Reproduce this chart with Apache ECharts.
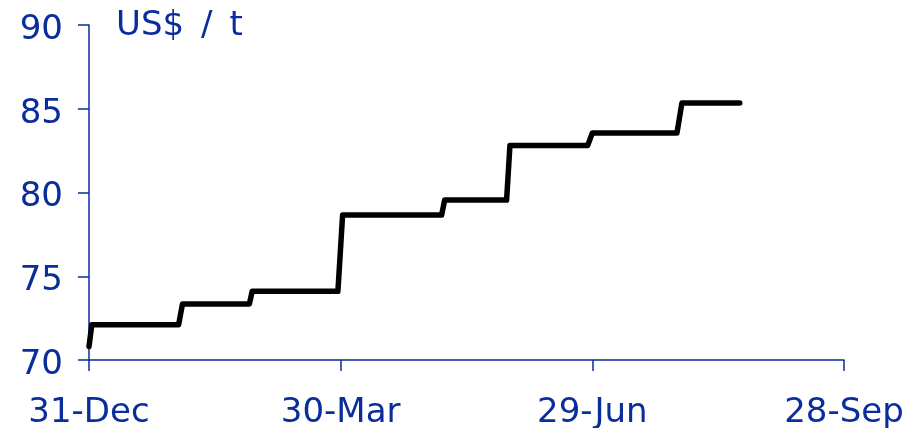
<!DOCTYPE html>
<html>
<head>
<meta charset="utf-8">
<script src="https://cdn.jsdelivr.net/npm/echarts@6/dist/echarts.min.js"></script>
<style>
  html, body { margin: 0; padding: 0; background: #fff; }
  #chart { width: 914px; height: 428px; }
</style>
</head>
<body>
<div id="chart"></div>
<script>
// days counted from 31-Dec, step breakpoints
const days = [0, 1, 32.4, 33.8, 58, 59, 90, 91.7, 127.5, 128.6, 151, 152.2, 180.3, 182, 212.6, 214.4, 235.3]
const prices = [70.8, 72.1, 72.1, 73.35, 73.35, 74.1, 74.1, 78.65, 78.65, 79.55, 79.55, 82.8, 82.8, 83.55, 83.55, 85.35, 85.35]
const tickLabels = ['31-Dec', '30-Mar', '29-Jun', '28-Sep']
const tickStep = 91

const blue = '#0a2d9c'
const font = 'DejaVu Sans'

const chart = echarts.init(document.getElementById('chart'))

chart.setOption({
  animation: false,
  grid: { left: 89, right: 70, top: 25, bottom: 68, outerBoundsMode: 'none', containLabel: false },
  xAxis: {
    type: 'value',
    min: 0,
    max: tickStep * 3,
    interval: tickStep,
    splitLine: { show: false },
    axisLine: { lineStyle: { color: blue, width: 1.5 } },
    axisTick: { show: true, length: 11, lineStyle: { color: blue, width: 1.5 } },
    axisLabel: {
      color: blue,
      fontFamily: font,
      fontSize: 34,
      margin: 36,
      formatter: (v) => tickLabels[Math.round(v / tickStep)],
    },
  },
  yAxis: {
    type: 'value',
    min: 70,
    max: 90,
    interval: 5,
    splitLine: { show: false },
    axisLine: { show: true, lineStyle: { color: blue, width: 1.5 } },
    axisTick: { show: true, length: 11, lineStyle: { color: blue, width: 1.5 } },
    axisLabel: {
      color: blue,
      fontFamily: font,
      fontSize: 34,
      margin: 26,
      formatter: (v) => '{a|' + v + '}',
      rich: { a: { fontFamily: font, fontSize: 34, color: blue, padding: [10, 0, 0, 0] } },
    },
  },
  graphic: [
    {
      type: 'text',
      left: 116,
      top: 9,
      style: { text: 'US$\u2002/\u2002t', fill: blue, font: '34px "DejaVu Sans"' },
    },
  ],
  series: [
    {
      type: 'line',
      data: days.map((d, i) => [d, prices[i]]),
      showSymbol: false,
      lineStyle: { color: '#000', width: 5.5, cap: 'round', join: 'round' },
    },
  ],
})
</script>
</body>
</html>
